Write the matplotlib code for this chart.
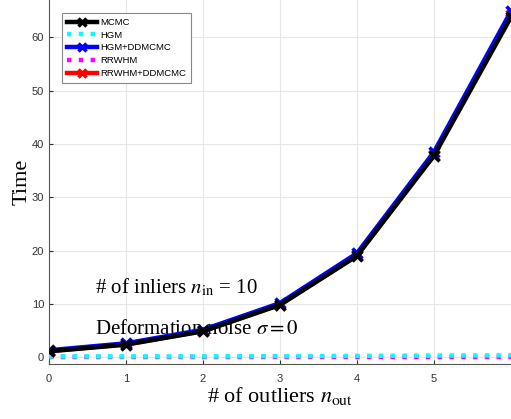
import matplotlib
matplotlib.use("Agg")
import matplotlib.pyplot as plt

# data
n_out = [0, 1, 2, 3, 4, 5, 6]
mcmc = [1.1, 2.35, 4.85, 9.8, 19.0, 37.8, 63.8]
hgm = [0.15, 0.15, 0.15, 0.2, 0.25, 0.3, 0.35]
hgm_dd = [1.3, 2.6, 5.15, 10.15, 19.5, 38.5, 64.9]
rrwhm = [0.05, 0.05, 0.05, 0.05, 0.05, 0.05, 0.05]
rrwhm_dd = [1.15, 2.4, 4.9, 9.85, 19.1, 38.0, 64.2]

plt.rcParams['mathtext.fontset'] = 'stix'

fig = plt.figure(figsize=(5.11, 4.19), dpi=100)
ax = fig.add_axes([0.096, 0.131, 0.904, 0.869])

lw = 3.2
mk = dict(marker='x', ms=7, mew=2.5)
ax.plot(n_out, mcmc, color='black', lw=lw, label='MCMC', zorder=5, **mk)
ax.plot(n_out, hgm, color='cyan', lw=lw, ls=':', label='HGM', zorder=3)
ax.plot(n_out, hgm_dd, color='blue', lw=lw, label='HGM+DDMCMC', zorder=4, **mk)
ax.plot(n_out, rrwhm, color='magenta', lw=lw, ls=':', label='RRWHM', zorder=2)
ax.plot(n_out, rrwhm_dd, color='red', lw=lw, label='RRWHM+DDMCMC', zorder=3, **mk)

ax.set_xlim(0, 6)
ax.set_ylim(-1.3, 67)
ax.set_xticks([0, 1, 2, 3, 4, 5])
ax.set_yticks([0, 10, 20, 30, 40, 50, 60])
ax.grid(True, color='#e6e6e6', lw=0.8)
ax.set_axisbelow(True)
for s in ['top', 'right']:
    ax.spines[s].set_visible(False)
for s in ['left', 'bottom']:
    ax.spines[s].set_color('#555555')
ax.tick_params(labelsize=8, colors='#333333', length=3, direction='in', pad=3.5)
ax.tick_params(axis='x', pad=7)
for t in ax.get_xticklabels() + ax.get_yticklabels():
    t.set_fontfamily('Liberation Sans')

ax.set_xlabel('# of outliers $n_{\\rm out}$', fontsize=16, family='Liberation Serif', labelpad=1)
ax.set_ylabel('Time', fontsize=16, family='Liberation Serif', labelpad=0)

ax.text(0.6, 12.0, '# of inliers $n_{\\rm in}$ = 10', fontsize=15, family='Liberation Serif')
ax.text(0.6, 4.4, 'Deformation noise $\\sigma = 0$', fontsize=15, family='Liberation Serif')

leg = ax.legend(loc='upper left', bbox_to_anchor=(0.028, 0.964), borderaxespad=0,
                prop={'family': 'Liberation Sans', 'size': 6.8},
                fancybox=False, edgecolor='#888888', framealpha=1,
                handlelength=3.2, handletextpad=0.4, labelspacing=0.4,
                borderpad=0.5, markerscale=0.85)
leg.get_frame().set_linewidth(0.8)

fig.savefig('out.png', dpi=100)
